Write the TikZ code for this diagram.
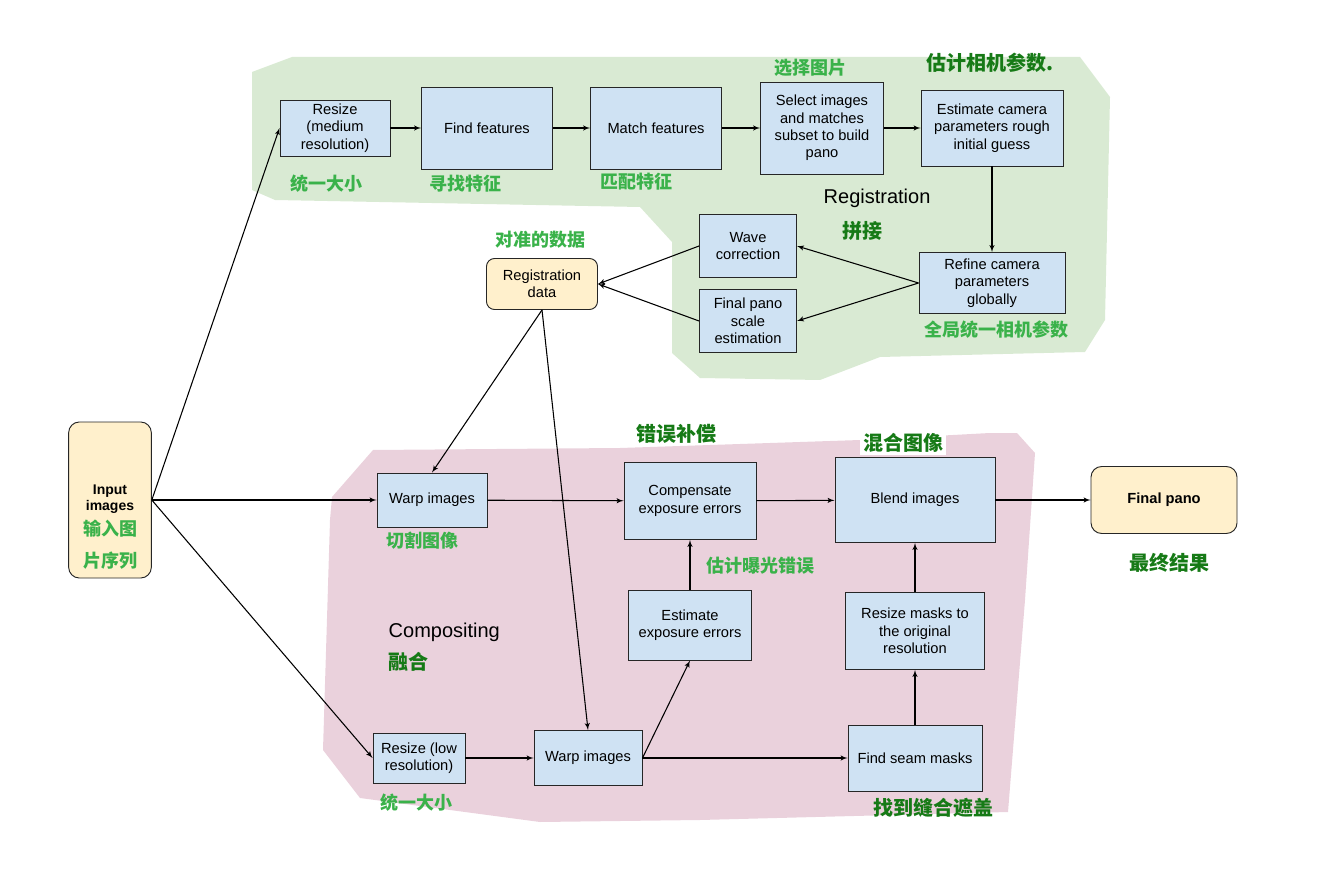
\documentclass[tikz,border=0pt]{standalone}
\usepackage{fontspec}
\setmainfont{Liberation Sans}
\newfontfamily\cjk{Noto Sans CJK SC}
\usepackage{tikz}
\usetikzlibrary{shapes,arrows}
\definecolor{boxBL}{RGB}{207,226,243}
\definecolor{boxYL}{RGB}{255,240,204}
\definecolor{regGR}{RGB}{217,234,211}
\definecolor{regPK}{RGB}{234,209,220}
\definecolor{txtGR}{RGB}{58,178,74}
\definecolor{txtDG}{RGB}{22,122,22}
\tikzstyle{blockBL} = [rectangle, draw=black!85, fill=boxBL, align=center, inner sep=1pt, line width=0.7pt]
\tikzstyle{blockYL} = [rectangle, draw=black!85, fill=boxYL, align=center, rounded corners=8pt, line width=0.7pt, font=\fontsize{11}{13}\selectfont\bfseries]
\tikzstyle{labelGR} = [text=txtGR, align=center, font=\cjk\bfseries\fontsize{13.5}{16}\selectfont]
\tikzstyle{labelDG} = [text=txtDG, align=center, font=\cjk\bfseries\fontsize{15}{18}\selectfont]
\tikzstyle{phase} = [anchor=west, font=\fontsize{15}{18}\selectfont]
\tikzstyle{line} = [draw, -latex', line width=0.8pt]

\begin{document}
\begin{tikzpicture}[x=0.75pt, y=-0.75pt, font=\fontsize{11}{13}\selectfont]
  \useasboundingbox (0,0) rectangle (1324,880);

  % regions
  \fill[regGR] (252,72) -- (292,57) -- (1080,57) -- (1110,97) -- (1105,320) -- (1085,352)
    -- (880,357) -- (820,380) -- (700,378) -- (672,353) -- (672,242) -- (640,207)
    -- (275,200) -- (252,190) -- cycle;
  \fill[regPK] (373,450) -- (620,448) -- (860,440) -- (990,433) -- (1017,433) -- (1035,453)
    -- (1025,600) -- (1008,812) -- (700,820) -- (540,822) -- (360,798) -- (323,750)
    -- (330,520) -- (332,497) -- cycle;

  % nodes
  \node [blockYL, minimum width=62pt, minimum height=117pt] (input) at (110,500) {};
  \node [font=\fontsize{10.5}{12.5}\selectfont\bfseries, align=center] (input_en) at (110,499) {Input\\images};
  \node [labelGR] (input_cn) at (110,545) {输入图\\[8pt]片序列};

  \node [blockBL, minimum width=82.5pt, minimum height=42pt] (rmed) at (335,128) {Resize\\(medium\\resolution)};
  \node [blockBL, minimum width=98.25pt, minimum height=61.5pt] (find) at (487,128) {Find features};
  \node [blockBL, minimum width=98.25pt, minimum height=61.5pt] (match) at (656,128) {Match features};
  \node [blockBL, minimum width=92.25pt, minimum height=69pt] (select) at (822,128) {Select images\\and matches\\subset to build\\pano};
  \node [blockBL, minimum width=106.5pt, minimum height=57pt] (estcam) at (992,128) {Estimate camera\\parameters rough\\initial guess};
  \node [blockBL, minimum width=109.5pt, minimum height=45.75pt] (refine) at (992,283) {Refine camera\\parameters\\globally};
  \node [blockBL, minimum width=72.75pt, minimum height=47.25pt] (wave) at (748,246) {Wave\\correction};
  \node [blockBL, minimum width=72.75pt, minimum height=47.25pt] (scale) at (748,321) {Final pano\\scale\\estimation};
  \node [blockYL, font=\fontsize{11}{13}\selectfont, rounded corners=6pt, minimum width=83.25pt, minimum height=38.25pt] (regdata) at (542,284) {Registration\\data};

  \node [blockBL, minimum width=82.5pt, minimum height=40.5pt] (warptop) at (432,500) {Warp images};
  \node [blockBL, minimum width=99pt, minimum height=57.75pt] (comp) at (690,501) {Compensate\\exposure errors};
  \node [blockBL, minimum width=120pt, minimum height=63.75pt] (blend) at (915,500) {Blend images};
  \node [blockYL, minimum width=109.5pt, minimum height=50.25pt] (final) at (1164,500) {Final pano};
  \node [blockBL, minimum width=92.25pt, minimum height=52.5pt] (estexp) at (690,625) {Estimate\\exposure errors};
  \node [blockBL, minimum width=104.25pt, minimum height=57.75pt] (rmask) at (915,631) {Resize masks to\\the original\\resolution};
  \node [blockBL, minimum width=69pt, minimum height=37.5pt] (rlow) at (419,758) {Resize (low\\resolution)};
  \node [blockBL, minimum width=81pt, minimum height=41.25pt] (warpbot) at (588,758) {Warp images};
  \node [blockBL, minimum width=100.5pt, minimum height=49.5pt] (seam) at (915,758) {Find seam masks};

  % labels
  \node [labelGR] (l_rmed) at (326,184) {统一大小};
  \node [labelGR] (l_find) at (465,184) {寻找特征};
  \node [labelGR] (l_match) at (636,182) {匹配特征};
  \node [labelGR] (l_select) at (810,68) {选择图片};
  \node [labelDG] (l_estcam) at (990,63) {估计相机参数.};
  \node [phase] (l_reg) at (819,198) {Registration};
  \node [labelDG] (l_reg_cn) at (862,231) {拼接};
  \node [labelGR] (l_refine) at (996,330) {全局统一相机参数};
  \node [labelGR] (l_regdata) at (540,240) {对准的数据};
  \node [labelDG] (l_comp) at (676,434) {错误补偿};
  \node [labelDG, fill=white, inner sep=2pt] (l_blend) at (903,443) {混合图像};
  \node [labelGR] (l_warptop) at (422,541) {切割图像};
  \node [labelGR] (l_estexp) at (760,566) {估计曝光错误};
  \node [phase] (l_compo) at (384,632) {Compositing};
  \node [labelDG, anchor=west] (l_compo_cn) at (384,662) {融合};
  \node [labelGR] (l_rlow) at (416,803) {统一大小};
  \node [labelDG] (l_seam) at (933,808) {找到缝合遮盖};
  \node [labelDG] (l_final) at (1169,563) {最终结果};

  % edges
  \path [line] (input.east) -- (rmed.west);
  \path [line] (input.east) -- (warptop.west);
  \path [line] (input.east) -- (rlow.west);
  \path [line] (rmed) -- (find);
  \path [line] (find) -- (match);
  \path [line] (match) -- (select);
  \path [line] (select) -- (estcam);
  \path [line] (estcam) -- (refine);
  \path [line] (refine.west) -- (wave.east);
  \path [line] (refine.west) -- (scale.east);
  \path [line] (wave.west) -- (regdata.east);
  \path [line] (scale.west) -- (regdata.east);
  \path [line] (regdata.south) -- (warptop.north);
  \path [line] (regdata.south) -- (warpbot.north);
  \path [line] (warptop) -- (comp);
  \path [line] (comp) -- (blend);
  \path [line] (blend) -- (final);
  \path [line] (rlow) -- (warpbot);
  \path [line] (warpbot.east) -- (estexp.south);
  \path [line] (warpbot) -- (seam);
  \path [line] (estexp) -- (comp);
  \path [line] (seam) -- (rmask);
  \path [line] (rmask) -- (blend);
\end{tikzpicture}
\end{document}
